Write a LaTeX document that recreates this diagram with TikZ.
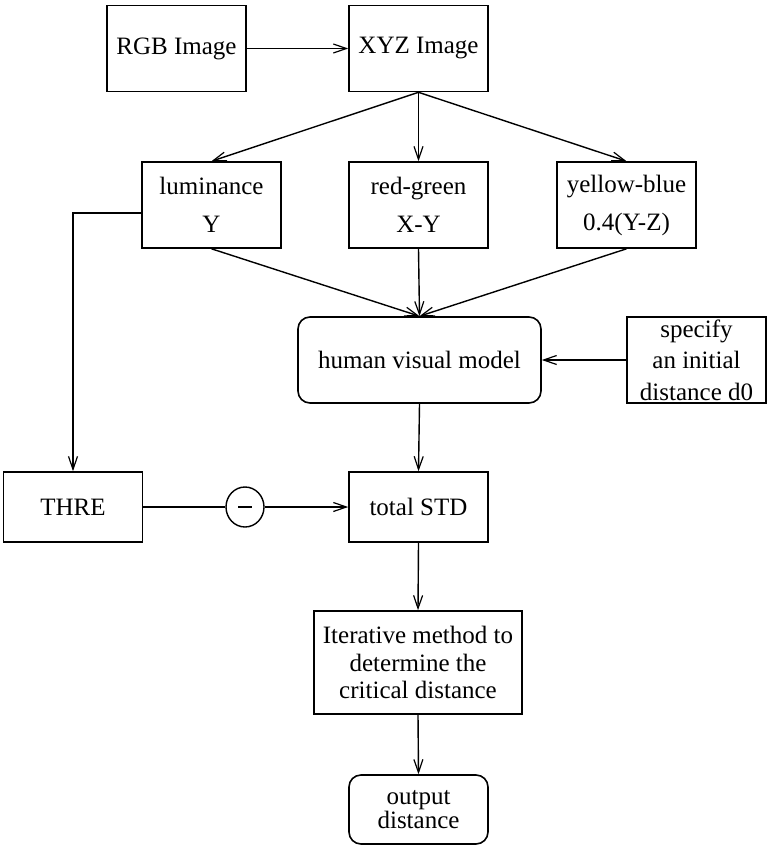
\documentclass[tikz,border=0pt]{standalone}
\usepackage{fontspec}
\setmainfont{Liberation Serif}
\usetikzlibrary{arrows.meta,shapes.geometric}
\begin{document}
\begin{tikzpicture}[x=1pt,y=-1pt,
  every node/.style={font=\fontsize{25}{29}\selectfont},
  box/.style={draw,line width=1.6pt,inner sep=0pt,align=center,minimum width=139pt,minimum height=86pt},
  rbox/.style={box,rounded corners=12pt},
  arr/.style={line width=1.4pt,-{Straight Barb[length=13pt,width=9pt,line width=1.2pt]}},
  ln/.style={line width=1.4pt}]
\useasboundingbox (0,0) rectangle (767,846);
\node[box] (rgb) at (176.5,48.5) {RGB Image};
\node[box] (xyz) at (418.5,48.5) {XYZ Image};
\node[box,font=\fontsize{25}{38}\selectfont] (lum) at (211.5,205) {luminance\\Y};
\node[box,font=\fontsize{25}{38}\selectfont] (rg) at (418.5,205) {red-green\\X-Y};
\node[box,font=\fontsize{25}{38}\selectfont] (yb) at (626.5,205) {yellow-blue\\0.4(Y-Z)};
\node[rbox,minimum width=243pt] (hvm) at (419.5,360) {human visual model};
\node[box,font=\fontsize{25}{31.5}\selectfont] (spec) at (696.5,360) {specify\\an initial\\distance d0};
\node[box,minimum height=70pt] (thre) at (73,507) {THRE};
\node[draw,line width=1.4pt,ellipse,minimum width=38pt,minimum height=40pt,inner sep=0pt] (minus) at (245,507) {\rule[-0.9pt]{14pt}{1.8pt}};
\node[box,minimum height=70pt] (std) at (418.5,507) {total STD};
\node[box,minimum width=208pt,minimum height=103pt,font=\fontsize{25}{27.7}\selectfont] (iter) at (418,662.5) {Iterative method to\\determine the\\critical distance};
\node[rbox,minimum height=69pt,font=\fontsize{25}{22}\selectfont] (out) at (418.5,809.5) {output\\distance};
\draw[arr] (rgb) -- (xyz);
\draw[arr] (xyz.south) -- (lum.north);
\draw[arr] (xyz.south) -- (rg.north);
\draw[arr] (xyz.south) -- (yb.north);
\draw[arr] (lum.south) -- (hvm.north);
\draw[arr] (rg.south) -- (hvm.north);
\draw[arr] (yb.south) -- (hvm.north);
\draw[arr] (spec.west) -- (hvm.east);
\draw[arr] ([yshift=-8pt]lum.west) -| (thre.north);
\draw[ln] (thre.east) -- (minus.west);
\draw[arr] (minus.east) -- (std.west);
\draw[arr] (hvm.south) -- (std.north);
\draw[arr] (std.south) -- (iter.north);
\draw[arr] (iter.south) -- (out.north);
\end{tikzpicture}
\end{document}
